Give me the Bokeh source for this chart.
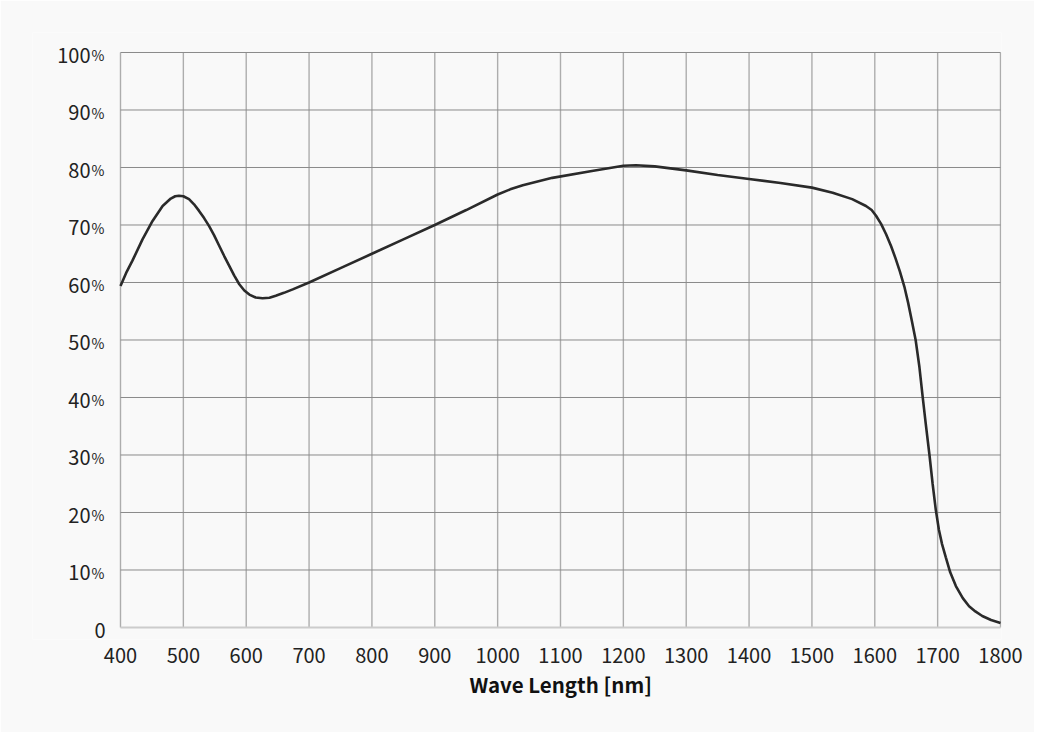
from bokeh.plotting import figure
from bokeh.models import FixedTicker, Range1d, Title
from bokeh.core.properties import value
from bokeh.embed import file_html
from bokeh.resources import INLINE

# ---- data ----
wavelength = [400, 410, 419, 435, 451, 467, 480, 487, 493, 500, 509, 517, 525, 533,
              541, 549, 557, 565, 573, 581, 589, 597, 605, 615, 626, 637, 647, 660,
              674, 700, 750, 800, 850, 900, 950, 1000, 1020, 1040, 1087, 1150, 1200,
              1220, 1250, 1300, 1350, 1400, 1450, 1500, 1533, 1564, 1586, 1595, 1602,
              1610, 1618, 1626, 1633, 1640, 1647, 1653, 1659, 1665, 1671, 1676, 1681,
              1687, 1692, 1697, 1702, 1707, 1713, 1720, 1729, 1740, 1750, 1760, 1771,
              1785, 1800]
transmittance = [59.4, 61.9, 63.8, 67.5, 70.7, 73.3, 74.6, 75.0, 75.1, 75.0, 74.5, 73.6,
                 72.45, 71.2, 69.8, 68.2, 66.4, 64.6, 62.9, 61.2, 59.7, 58.6, 57.9, 57.4,
                 57.25, 57.35, 57.7, 58.2, 58.8, 60.0, 62.5, 65.0, 67.5, 70.0, 72.6, 75.3,
                 76.2, 76.9, 78.2, 79.4, 80.3, 80.4, 80.2, 79.5, 78.7, 78.0, 77.3, 76.5,
                 75.6, 74.5, 73.3, 72.6, 71.6, 70.2, 68.4, 66.3, 64.2, 61.9, 59.3, 56.5,
                 53.3, 50.0, 45.3, 40.3, 35.5, 30.0, 25.0, 20.5, 17.0, 14.5, 12.2, 9.6,
                 7.2, 5.1, 3.7, 2.8, 2.0, 1.3, 0.8]
x_ticks = [400, 500, 600, 700, 800, 900, 1000, 1100, 1200, 1300, 1400, 1500, 1600, 1700, 1800]
y_ticks = [0, 10, 20, 30, 40, 50, 60, 70, 80, 90, 100]
y_tick_numbers = ["0", "10", "20", "30", "40", "50", "60", "70", "80", "90", "100"]
x_title = "Wave Length [nm]"

FONT = "Noto Sans CJK JP"
BG = "#f9f9f9"
TXT = "#222222"

# The frame is widened left, up and down so that the y tick texts (number + small %)
# can be drawn as text glyphs inside it; grid lines are drawn bounded to the data area.
p = figure(width=1034, height=732,
           x_range=Range1d(260, 1801.59), y_range=Range1d(-2.087, 103.478),
           output_backend="svg", toolbar_location=None,
           min_border_left=32, min_border_right=33,
           min_border_top=32, min_border_bottom=93,
           background_fill_color=BG, border_fill_color=BG,
           outline_line_color=None)
p.xgrid.visible = False
p.ygrid.visible = False
p.yaxis.visible = False

# grid lines limited to the data area
n_x = len(x_ticks)
p.segment(x0=x_ticks, x1=x_ticks, y0=[y_ticks[0]] * n_x, y1=[y_ticks[-1]] * n_x,
          line_color="#adadad", line_width=1.4)
h_ticks = y_ticks[1:]
n_y = len(h_ticks)
p.segment(x0=[x_ticks[0]] * n_y, x1=[x_ticks[-1]] * n_y, y0=h_ticks, y1=h_ticks,
          line_color="#8a8a8a", line_width=1)
# baseline (0 %)
p.segment(x0=[x_ticks[0]], x1=[x_ticks[-1]], y0=[y_ticks[0]], y1=[y_ticks[0]],
          line_color="#cccccc", line_width=2)

# x axis (labels only; its line is the baseline segment above)
xa = p.xaxis[0]
xa.ticker = FixedTicker(ticks=x_ticks)
xa.bounds = (x_ticks[0], x_ticks[-1])
xa.major_tick_line_color = None
xa.minor_tick_line_color = None
xa.axis_line_color = None
xa.major_label_text_font = FONT
xa.major_label_text_font_size = "20px"
xa.major_label_text_color = TXT
xa.major_label_standoff = 2

# x axis title, centred under the data area
p.add_layout(Title(text=x_title, align="left", offset=437, standoff=6,
                   vertical_align="top", text_font=FONT, text_font_style="bold",
                   text_font_size="20.5px", text_color="#111111"), "below")

# curve
p.line(wavelength, transmittance, line_color="#2a2a2a", line_width=2.6)

# y tick labels: number + smaller percent sign
num_offsets = [-15 if t == "0" else -30 for t in y_tick_numbers]
p.text(x=[x_ticks[0]] * len(y_ticks), y=y_ticks, text=y_tick_numbers,
       x_offset=num_offsets, y_offset=3, text_align="right",
       text_baseline="alphabetic", text_font=value(FONT),
       text_font_size=value("20px"), text_color=TXT)
pct_y = [v for v in y_ticks if v != 0]
p.text(x=[x_ticks[0]] * len(pct_y), y=pct_y, text=["%"] * len(pct_y),
       x_offset=-29, y_offset=3, text_align="left",
       text_baseline="alphabetic", text_font=value(FONT),
       text_font_size=value("14px"), text_color=TXT)

open("out.html", "w").write(file_html(p, INLINE))
